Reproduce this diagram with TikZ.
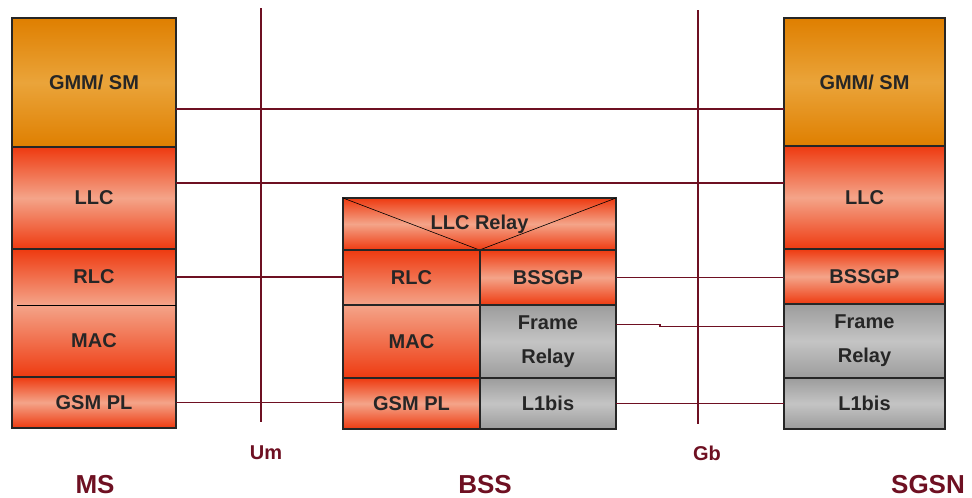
\documentclass[tikz,border=0pt]{standalone}
\usepackage{fontspec}
\setmainfont{Liberation Sans}
\usepackage{tikz}
\usetikzlibrary{positioning, calc}
\usepackage{xcolor}
\definecolor{gprsorange}{HTML}{DF7F00}
\definecolor{gprsorangelight}{HTML}{EAA43A}
\definecolor{gprsred}{HTML}{EE3A10}
\definecolor{gprssalmon}{HTML}{F4A489}
\definecolor{gprsgray}{HTML}{9C9C9C}
\definecolor{gprsgraylight}{HTML}{C4C4C4}
\definecolor{gprsmaroon}{HTML}{6E1022}

\begin{document}
\begin{tikzpicture}[x=1pt, y=1pt, node distance=0pt,
  layer/.style={draw=black!85, line width=1.2pt, inner sep=0pt, outer sep=0pt, text=black!85, align=center, font=\bfseries\fontsize{20}{34}\selectfont},
  gmmlayer/.style={layer, top color=gprsorange, bottom color=gprsorange, middle color=gprsorangelight},
  redlayer/.style={layer, top color=gprsred, bottom color=gprsred, middle color=gprssalmon},
  rlclayer/.style={layer, top color=gprsred, bottom color=gprssalmon},
  maclayer/.style={layer, top color=gprssalmon, bottom color=gprsred},
  graylayer/.style={layer, top color=gprsgray, bottom color=gprsgray, middle color=gprsgraylight},
  link/.style={draw=gprsmaroon, line width=1.2pt},
  iface/.style={text=gprsmaroon, font=\bfseries\fontsize{20}{24}\selectfont},
  entity/.style={text=gprsmaroon, font=\bfseries\fontsize{26}{30}\selectfont}]
\useasboundingbox (0,0) rectangle (972,-498);

% MS stack
\node[gmmlayer, minimum width=164pt, minimum height=129pt, anchor=north west] (msgmm) at (12,-18) {GMM/ SM};
\node[redlayer, minimum width=164pt, minimum height=102pt, below=of msgmm] (msllc) {LLC};
\node[rlclayer, draw=none, minimum width=164pt, minimum height=56pt, below=of msllc] (msrlc) {RLC};
\node[maclayer, draw=none, minimum width=164pt, minimum height=72pt, below=of msrlc] (msmac) {MAC};
\node[redlayer, minimum width=164pt, minimum height=51pt, below=of msmac] (msgsm) {GSM PL};
\draw[line width=1.2pt, draw=black!85] (msrlc.north west) rectangle (msmac.south east);
\draw[line width=0.6pt] ([xshift=5pt]msrlc.south west) -- (msrlc.south east);

% BSS stack
\node[redlayer, minimum width=273pt, minimum height=52pt, anchor=north west] (bsrelay) at (343,-198) {LLC Relay};
\draw[line width=0.6pt] (bsrelay.north west) -- (bsrelay.south) -- (bsrelay.north east);
\node[rlclayer, minimum width=137pt, minimum height=55pt, below right=0pt and 0pt of bsrelay.south west] (bsrlc) {RLC};
\node[maclayer, minimum width=137pt, minimum height=73pt, below=of bsrlc] (bsmac) {MAC};
\node[redlayer, minimum width=137pt, minimum height=51pt, below=of bsmac] (bsgsm) {GSM PL};
\node[redlayer, minimum width=136pt, minimum height=55pt, below left=0pt and 0pt of bsrelay.south east] (bsbssgp) {BSSGP};
\node[graylayer, minimum width=136pt, minimum height=73pt, below=of bsbssgp] (bsfr) {Frame\\Relay};
\node[graylayer, minimum width=136pt, minimum height=51pt, below=of bsfr] (bsl1) {L1bis};

% SGSN stack
\node[gmmlayer, minimum width=161pt, minimum height=128pt, anchor=north west] (sggmm) at (784,-18) {GMM/ SM};
\node[redlayer, minimum width=161pt, minimum height=103pt, below=of sggmm] (sgllc) {LLC};
\node[redlayer, minimum width=161pt, minimum height=55pt, below=of sgllc] (sgbssgp) {BSSGP};
\node[graylayer, minimum width=161pt, minimum height=74pt, below=of sgbssgp] (sgfr) {Frame\\Relay};
\node[graylayer, minimum width=161pt, minimum height=51pt, below=of sgfr] (sgl1) {L1bis};

% interfaces
\coordinate (umtop) at (261,-8);
\coordinate (umbot) at (261,-422);
\coordinate (gbtop) at (698,-10);
\coordinate (gbbot) at (698,-424);
\draw[link] (umtop) -- (umbot);
\draw[link] (gbtop) -- (gbbot);

% peer links
\coordinate (gmmlink) at ($(msgmm.north east)!0.705!(msgmm.south east)$);
\coordinate (llclink) at ($(msllc.north east)!0.353!(msllc.south east)$);
\coordinate (frlink) at ($(bsfr.north east)!0.27!(bsfr.south east)$);
\draw[link] (gmmlink) -- (sggmm.west |- gmmlink);
\draw[link] (llclink) -- (sgllc.west |- llclink);
\draw[link] (msrlc.east) -- (bsrlc.west |- msrlc.east);
\draw[link] (msgsm.east) -- (bsgsm.west |- msgsm.east);
\draw[link] (bsbssgp.east) -- (sgbssgp.west |- bsbssgp.east);
\draw[link] (frlink) -- ++(44,0) -- ++(0,-2) coordinate (frstep) -- (frstep -| sgfr.west);
\draw[link] (bsl1.east) -- (sgl1.west |- bsl1.east);

% labels
\node[iface] (um) at (266,-453) {Um};
\node[iface] (gb) at (707,-453) {Gb};
\node[entity] (ms) at (95,-485) {MS};
\node[entity] (bss) at (485,-485) {BSS};
\node[entity] (sgsn) at (928,-485) {SGSN};
\end{tikzpicture}
\end{document}
